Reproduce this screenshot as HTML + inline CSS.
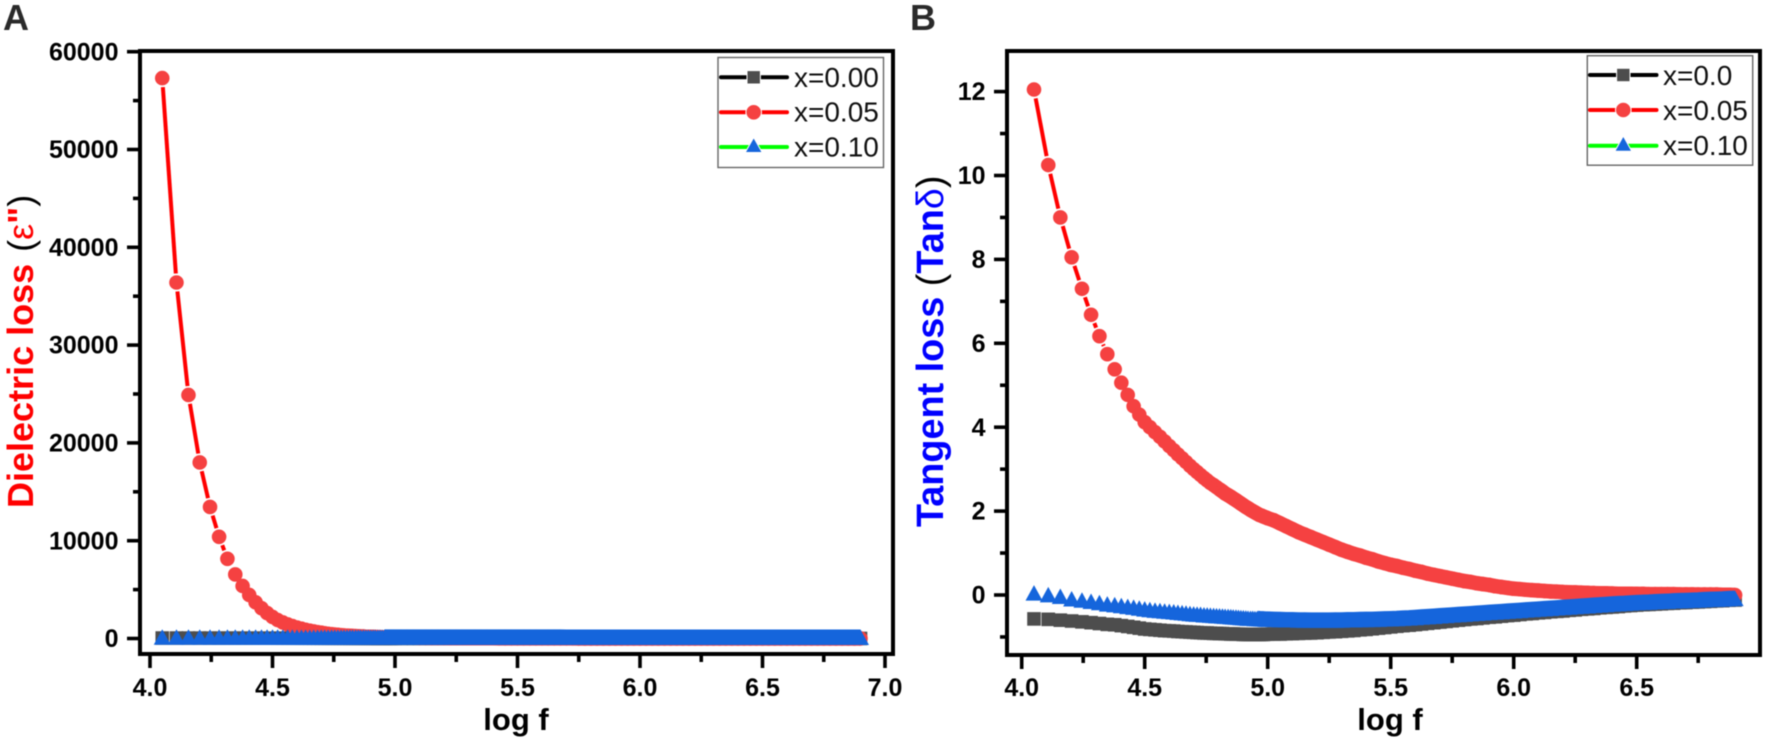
<!DOCTYPE html>
<html lang="en">
<head>
<meta charset="utf-8">
<title>Dielectric loss and tangent loss versus log f</title>
<style>
html,body{margin:0;padding:0;background:#fff;}
body{width:1772px;height:746px;overflow:hidden;}
svg{display:block;font-family:"Liberation Sans",sans-serif;filter:blur(0.5px);}
.tick{font-size:25px;font-weight:700;fill:#000;}
.xt{font-size:31px;font-weight:700;fill:#000;}
.lg{font-size:28px;fill:#111;}
.pl{font-size:36px;font-weight:700;fill:#2a2a2a;}
</style>
</head>
<body>
<svg id="figure" xmlns="http://www.w3.org/2000/svg" width="1772" height="746" viewBox="0 0 1772 746">
  <text class="pl" x="3" y="30">A</text>
  <text class="pl" x="910" y="30">B</text>

  <g id="panelA"></g>
  <g id="panelB"></g>

  <text transform="translate(33,508) rotate(-90)" font-size="36" font-weight="700" fill="#f00">Dielectric loss<tspan dx="12" font-weight="400" fill="#000">(</tspan><tspan font-weight="400">ε</tspan><tspan>"</tspan><tspan font-weight="400" fill="#000">)</tspan></text>
  <text transform="translate(943,527) rotate(-90)" font-size="37.8" font-weight="700" fill="#00f">Tangent loss <tspan font-weight="400" fill="#000">(</tspan>Tan<tspan font-weight="400">δ</tspan><tspan font-weight="400" fill="#000">)</tspan></text>

  <text class="xt" x="516" y="730" text-anchor="middle">log f</text>
  <text class="xt" x="1390" y="730" text-anchor="middle">log f</text>

  <g>
    <rect x="718" y="57.5" width="165.5" height="110" fill="#fff" stroke="#666" stroke-width="1.4"/>
    <g>
      <line x1="721" x2="787" y1="77.3" y2="77.3" stroke="#000" stroke-width="4" stroke-linecap="round"/>
      <rect x="747" y="70.6" width="13.4" height="13.4" fill="#4d4d4d" stroke="#fff" stroke-width="1"/>
      <text class="lg" x="794" y="87">x=0.00</text>
    </g>
    <g>
      <line x1="721" x2="787" y1="112.3" y2="112.3" stroke="#f00" stroke-width="4" stroke-linecap="round"/>
      <circle cx="753.7" cy="112.3" r="7.8" fill="#f54141" stroke="#fff" stroke-width="1"/>
      <text class="lg" x="794" y="121.5">x=0.05</text>
    </g>
    <g>
      <line x1="721" x2="787" y1="147" y2="147" stroke="#0f0" stroke-width="4" stroke-linecap="round"/>
      <polygon points="753.7,137.5 745.2,152.5 762.2,152.5" fill="#1565dc" stroke="#fff" stroke-width="1"/>
      <text class="lg" x="794" y="156.5">x=0.10</text>
    </g>
  </g>

  <g>
    <rect x="1587.3" y="55.7" width="165.4" height="109.5" fill="#fff" stroke="#666" stroke-width="1.4"/>
    <g>
      <line x1="1590" x2="1656.5" y1="75" y2="75" stroke="#000" stroke-width="4" stroke-linecap="round"/>
      <rect x="1616.6" y="68.3" width="13.4" height="13.4" fill="#4d4d4d" stroke="#fff" stroke-width="1"/>
      <text class="lg" x="1663" y="85">x=0.0</text>
    </g>
    <g>
      <line x1="1590" x2="1656.5" y1="110" y2="110" stroke="#f00" stroke-width="4" stroke-linecap="round"/>
      <circle cx="1623.3" cy="110" r="7.8" fill="#f54141" stroke="#fff" stroke-width="1"/>
      <text class="lg" x="1663" y="120">x=0.05</text>
    </g>
    <g>
      <line x1="1590" x2="1656.5" y1="145.7" y2="145.7" stroke="#0f0" stroke-width="4" stroke-linecap="round"/>
      <polygon points="1623.3,136 1614.8,151.2 1631.8,151.2" fill="#1565dc" stroke="#fff" stroke-width="1"/>
      <text class="lg" x="1663" y="155">x=0.10</text>
    </g>
  </g>
</svg>

<script>
const logF = [
4.05,4.108,4.157,4.203,4.245,4.282,4.316,4.348,4.378,4.405,4.431,4.455,4.478,4.5,
4.521,4.542,4.562,4.581,4.6,4.618,4.635,4.652,4.668,4.684,4.699,4.713,4.727,
4.741,4.754,4.767,4.78,4.792,4.804,4.816,4.827,4.839,4.85,4.86,4.871,4.881,
4.891,4.901,4.911,4.92,4.93,4.939,4.948,4.957,4.966,4.975,4.983,4.992,5.0,
5.025,5.05,5.075,5.1,5.125,5.15,5.175,5.2,5.225,5.25,5.275,5.3,5.325,5.35,5.375,5.4,5.425,5.45,5.475,5.5,
5.525,5.55,5.575,5.6,5.625,5.65,5.675,5.7,5.725,5.75,5.775,5.8,5.825,5.85,5.875,5.9,5.925,5.95,5.975,6.0,
6.025,6.05,6.075,6.1,6.125,6.15,6.175,6.2,6.225,6.25,6.275,6.3,6.325,6.35,6.375,6.4,6.425,6.45,6.475,6.5,
6.525,6.55,6.575,6.6,6.625,6.65,6.675,6.7,6.725,6.75,6.775,6.8,6.825,6.85,6.875,6.9];

const lossBlack = [
48,46,44,42,40,38,37,36,35,34,33,32,31,30,
29,29,28,28,27,27,26,26,25,25,24,24,23,
23,23,22,22,22,21,21,21,20,20,20,19,19,
19,19,18,18,18,18,17,17,17,17,16,16,16,
16,16,15,15,15,14,14,14,13,13,13,12,12,12,11,11,11,10,10,10,
10,9,9,9,9,8,8,8,8,7,7,7,7,7,6,6,6,6,6,5,
5,5,5,5,5,4,4,4,4,4,4,4,3,3,3,3,3,3,3,3,
3,3,2,2,2,2,2,2,2,2,2,2,2,2,2,2];
const lossRed = [
57300,36400,24900,18000,13450,10400,8150,6550,5370,4450,3700,3100,2600,2200,
1890,1640,1440,1270,1120,1000,890,800,720,650,590,530,480,
440,405,375,345,320,295,275,255,235,220,205,195,180,
170,160,155,145,135,130,125,120,115,110,108,106,105,
95,88,80,72,66,60,55,50,45,41,38,35,32,30,28,26,24,22,20,19,
18,17,16,15,14,14,13,12,12,11,10,10,9,9,8,8,7,7,6,6,
6,5,5,5,5,4,4,4,4,4,3,3,3,3,3,3,3,2,2,2,
2,2,2,2,2,2,2,2,2,2,2,2,2,2,2,2];
const lossBlue = [
30,29,28,27,26,25,25,24,24,23,23,22,22,21,
21,20,20,20,19,19,19,18,18,18,17,17,17,
16,16,16,16,15,15,15,15,14,14,14,14,14,
13,13,13,13,13,13,12,12,12,12,12,12,12,
12,12,11,11,11,11,10,10,10,10,9,9,9,9,9,8,8,8,8,8,
8,7,7,7,7,7,7,6,6,6,6,6,6,5,5,5,5,5,5,5,
4,4,4,4,4,4,4,4,3,3,3,3,3,3,3,3,3,3,3,3,
2,2,2,2,2,2,2,2,2,2,2,2,2,2,2,2];

const tanBlack = [
-0.57,-0.58,-0.6,-0.62,-0.64,-0.66,-0.68,-0.7,-0.71,-0.73,-0.75,-0.77,-0.79,-0.81,
-0.82,-0.83,-0.84,-0.85,-0.855,-0.86,-0.87,-0.875,-0.88,-0.885,-0.89,-0.895,-0.9,
-0.905,-0.905,-0.91,-0.915,-0.915,-0.92,-0.92,-0.925,-0.925,-0.93,-0.93,-0.935,-0.935,
-0.935,-0.94,-0.94,-0.94,-0.94,-0.94,-0.94,-0.94,-0.94,-0.94,-0.94,-0.935,-0.935,
-0.93,-0.93,-0.925,-0.92,-0.915,-0.91,-0.905,-0.9,-0.89,-0.88,-0.875,-0.865,-0.855,-0.845,-0.83,-0.82,-0.805,-0.79,-0.775,-0.76,
-0.745,-0.73,-0.72,-0.705,-0.69,-0.675,-0.66,-0.645,-0.63,-0.615,-0.6,-0.585,-0.57,-0.56,-0.545,-0.53,-0.52,-0.505,-0.49,-0.48,
-0.465,-0.45,-0.44,-0.425,-0.415,-0.4,-0.39,-0.38,-0.365,-0.355,-0.34,-0.33,-0.32,-0.305,-0.295,-0.285,-0.275,-0.26,-0.25,-0.24,
-0.23,-0.225,-0.215,-0.21,-0.2,-0.195,-0.185,-0.18,-0.17,-0.165,-0.155,-0.15,-0.14,-0.135,-0.125,-0.12];
const tanRed = [
12.05,10.25,9.0,8.05,7.3,6.68,6.17,5.74,5.38,5.06,4.77,4.5,4.3,4.12,
4.0,3.88,3.77,3.66,3.55,3.45,3.35,3.26,3.17,3.08,3.0,2.93,2.86,
2.79,2.73,2.67,2.62,2.57,2.52,2.47,2.42,2.38,2.34,2.3,2.26,2.22,
2.18,2.14,2.1,2.07,2.03,2.0,1.97,1.94,1.91,1.89,1.87,1.85,1.83,
1.78,1.71,1.64,1.57,1.5,1.44,1.38,1.32,1.26,1.2,1.14,1.08,1.03,0.98,0.94,0.89,0.85,0.8,0.76,0.72,
0.69,0.65,0.62,0.58,0.55,0.51,0.48,0.45,0.42,0.39,0.36,0.33,0.31,0.28,0.26,0.24,0.21,0.19,0.17,0.15,
0.14,0.125,0.115,0.105,0.095,0.085,0.08,0.07,0.065,0.06,0.055,0.05,0.045,0.04,0.04,0.035,0.03,0.03,0.03,0.025,
0.025,0.02,0.02,0.02,0.02,0.02,0.015,0.015,0.015,0.01,0.01,0.01,0.01,0.005,0.005,0.0];
const tanBlue = [
0.02,-0.02,-0.06,-0.12,-0.15,-0.18,-0.21,-0.24,-0.26,-0.28,-0.3,-0.32,-0.34,-0.36,
-0.375,-0.39,-0.4,-0.41,-0.42,-0.43,-0.44,-0.45,-0.46,-0.47,-0.48,-0.485,-0.49,
-0.5,-0.505,-0.51,-0.515,-0.52,-0.525,-0.53,-0.535,-0.54,-0.545,-0.55,-0.555,-0.56,
-0.565,-0.57,-0.575,-0.58,-0.585,-0.585,-0.59,-0.59,-0.595,-0.6,-0.6,-0.605,-0.605,
-0.61,-0.615,-0.62,-0.62,-0.625,-0.625,-0.63,-0.63,-0.63,-0.63,-0.625,-0.625,-0.62,-0.62,-0.615,-0.61,-0.61,-0.605,-0.6,-0.595,
-0.59,-0.58,-0.575,-0.565,-0.555,-0.545,-0.535,-0.525,-0.515,-0.505,-0.495,-0.485,-0.475,-0.465,-0.455,-0.445,-0.435,-0.425,-0.415,-0.405,
-0.395,-0.385,-0.375,-0.365,-0.355,-0.345,-0.335,-0.325,-0.315,-0.305,-0.295,-0.285,-0.275,-0.265,-0.255,-0.245,-0.235,-0.23,-0.22,-0.21,
-0.205,-0.2,-0.19,-0.185,-0.18,-0.17,-0.165,-0.16,-0.155,-0.15,-0.14,-0.135,-0.13,-0.125,-0.115,-0.11];

const xTicksA = [4.0,4.5,5.0,5.5,6.0,6.5,7.0];
const xMinorA = [4.25,4.75,5.25,5.75,6.25,6.75];
const yTicksA = [0,10000,20000,30000,40000,50000,60000];
const yMinorA = [5000,15000,25000,35000,45000,55000];
const xTicksB = [4.0,4.5,5.0,5.5,6.0,6.5];
const xMinorB = [4.25,4.75,5.25,5.75,6.25,6.75];
const yTicksB = [0,2,4,6,8,10,12];
const yMinorB = [-1,1,3,5,7,9,11];

const NS = 'http://www.w3.org/2000/svg';
function mk(parent, tag, attrs) {
  const el = document.createElementNS(NS, tag);
  for (const k in attrs) el.setAttribute(k, attrs[k]);
  parent.appendChild(el);
  return el;
}

function drawPanel(root, box, sx, sy, xMajor, xMinor, yMajor, yMinor, fmtX, series, suffix) {
  const X = v => sx.p0 + (v - sx.v0) * sx.k;
  const Y = v => sy.p0 - (v - sy.v0) * sy.k;

  const frame = mk(root, 'rect', {x: box.l, y: box.t, width: box.r - box.l, height: box.b - box.t, fill: '#fff', stroke: '#000', 'stroke-width': 4});
  
  

  xMajor.forEach(v => {
    const t = mk(root, 'line', {x1: X(v), x2: X(v), y1: box.b, y2: box.b + 14, stroke: '#000', 'stroke-width': 3.6});
    
    
    const l = mk(root, 'text', {x: X(v), y: 696, 'text-anchor': 'middle', class: 'tick'});
    
    
    l.textContent = fmtX(v);
  });
  xMinor.forEach(v => {
    const t = mk(root, 'line', {x1: X(v), x2: X(v), y1: box.b, y2: box.b + 8, stroke: '#000', 'stroke-width': 3.6});
    
    
  });
  yMajor.forEach(v => {
    const t = mk(root, 'line', {x1: box.l - 13, x2: box.l, y1: Y(v), y2: Y(v), stroke: '#000', 'stroke-width': 3.6});
    
    
    const l = mk(root, 'text', {x: box.l - 21.5, y: Y(v) + 8.6, 'text-anchor': 'end', class: 'tick'});
    
    
    l.textContent = String(v);
  });
  yMinor.forEach(v => {
    const t = mk(root, 'line', {x1: box.l - 7, x2: box.l, y1: Y(v), y2: Y(v), stroke: '#000', 'stroke-width': 3.6});
    
    
  });

  series.forEach(s => {
    const g = mk(root, 'g', {});
    
    
    const pts = s.values.map((v, i) => [X(logF[i]), Y(v)]);

    for (let i = 0; i < pts.length - 1; i++) {
      const dx = pts[i + 1][0] - pts[i][0], dy = pts[i + 1][1] - pts[i][1];
      const len = Math.hypot(dx, dy), gap = s.gap;
      if (len <= gap * 2 + 0.5) continue;
      const ux = dx / len, uy = dy / len;
      const seg = mk(g, 'line', {x1: pts[i][0] + ux * gap, y1: pts[i][1] + uy * gap, x2: pts[i + 1][0] - ux * gap, y2: pts[i + 1][1] - uy * gap, stroke: s.line, 'stroke-width': 4});
      
      
    }

    pts.forEach(p => {
      let m;
      if (s.shape === 'square') {
        m = mk(g, 'rect', {x: p[0] - 6.8, y: p[1] - 6.8, width: 13.6, height: 13.6, fill: s.fill});
      } else if (s.shape === 'circle') {
        m = mk(g, 'circle', {cx: p[0], cy: p[1], r: 7.3, fill: s.fill});
      } else {
        m = mk(g, 'polygon', {points: p[0] + ',' + (p[1] - 9) + ' ' + (p[0] - 8.5) + ',' + (p[1] + 6.5) + ' ' + (p[0] + 8.5) + ',' + (p[1] + 6.5), fill: s.fill});
      }
      
      
    });

    const dense = pts.filter((p, i) => logF[i] >= s.bandFrom);
    const band = mk(g, 'polyline', {points: dense.map(p => p[0] + ',' + (p[1] + s.bandDy)).join(' '), fill: 'none', stroke: s.fill, 'stroke-width': s.bandW, 'stroke-linejoin': 'round'});
    
    
  });
}

drawPanel(document.getElementById('panelA'),
  {l: 140, r: 893, t: 51, b: 654},
  {p0: 150, v0: 4, k: 245},
  {p0: 638.5, v0: 0, k: 0.00978},
  xTicksA, xMinorA, yTicksA, yMinorA, v => v.toFixed(1),
  [
    {name: 'x000', values: lossBlack, shape: 'square', fill: '#4d4d4d', line: '#000', gap: 9, bandFrom: 4.9, bandW: 13.6, bandDy: 0},
    {name: 'x005', values: lossRed, shape: 'circle', fill: '#f54141', line: '#f00', gap: 9, bandFrom: 4.8, bandW: 14.6, bandDy: 0},
    {name: 'x010', values: lossBlue, shape: 'triangle', fill: '#1565dc', line: '#0f0', gap: 9, bandFrom: 4.95, bandW: 15.5, bandDy: -1.25}
  ], 'a');

drawPanel(document.getElementById('panelB'),
  {l: 1007, r: 1760, t: 51, b: 655},
  {p0: 1021.7, v0: 4, k: 246},
  {p0: 595, v0: 0, k: 41.95},
  xTicksB, xMinorB, yTicksB, yMinorB, v => v.toFixed(1),
  [
    {name: 'x00', values: tanBlack, shape: 'square', fill: '#4d4d4d', line: '#000', gap: 9, bandFrom: 4.9, bandW: 13.6, bandDy: 0},
    {name: 'x005', values: tanRed, shape: 'circle', fill: '#f54141', line: '#f00', gap: 9, bandFrom: 4.8, bandW: 14.6, bandDy: 0},
    {name: 'x010', values: tanBlue, shape: 'triangle', fill: '#1565dc', line: '#0f0', gap: 9, bandFrom: 4.95, bandW: 15.5, bandDy: -1.25}
  ], 'b');
</script>
</body>
</html>
